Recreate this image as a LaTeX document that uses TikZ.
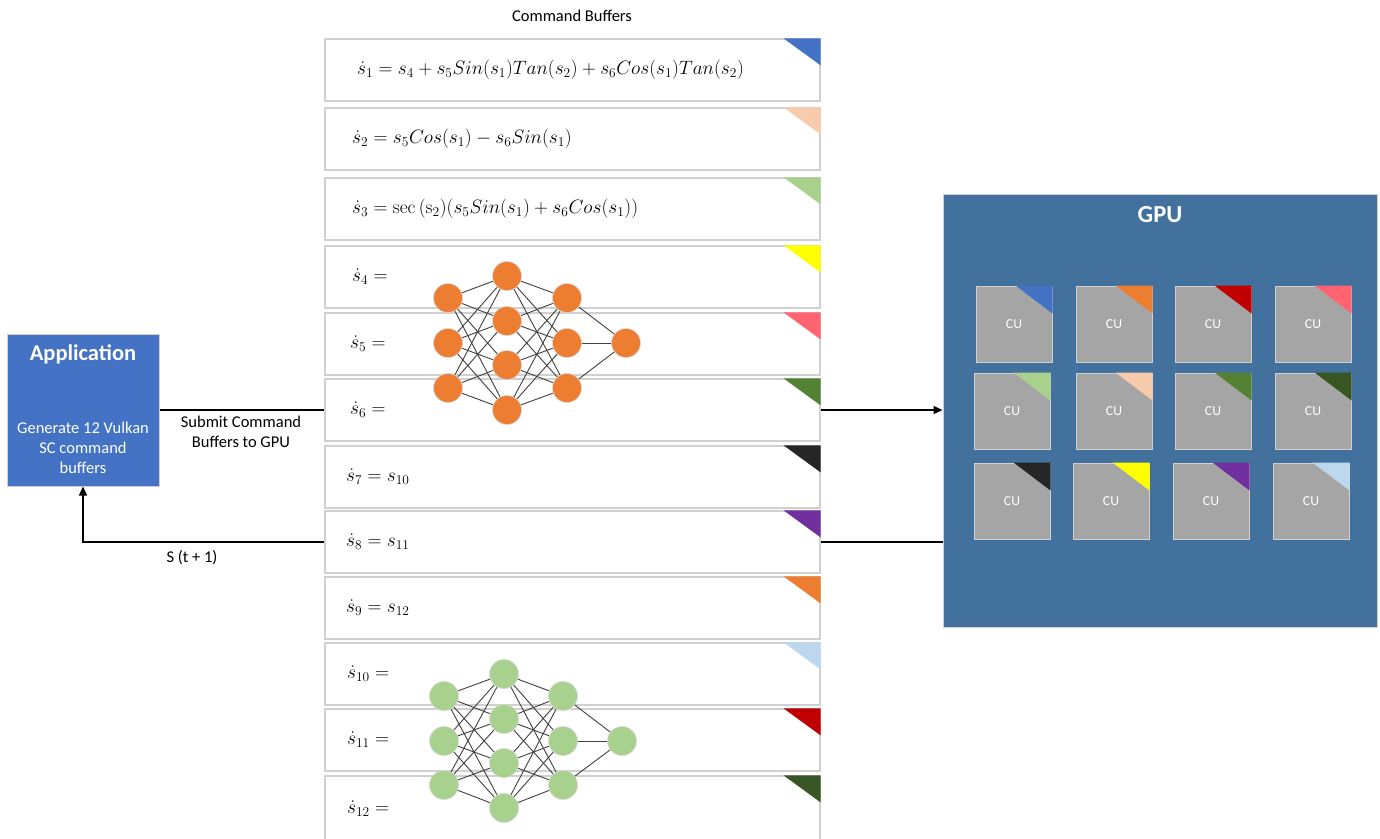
\documentclass[tikz,border=0pt]{standalone}
\usepackage[no-math]{fontspec}
\setmainfont{Carlito}
\usetikzlibrary{arrows.meta}
\pgfdeclarelayer{back}
\pgfdeclarelayer{mid}
\pgfsetlayers{back,mid,main}

% equations of the command buffers, set a little larger than the math font allows
\newcommand{\bufeq}[1]{\scalebox{1.12}{$#1$}}

\definecolor{cBlue}{HTML}{4472C4}
\definecolor{cPeach}{HTML}{F8CBAD}
\definecolor{cLGreen}{HTML}{A9D18E}
\definecolor{cYellow}{HTML}{FFFF00}
\definecolor{cSalmon}{HTML}{FF6470}
\definecolor{cGreen}{HTML}{548235}
\definecolor{cBlack}{HTML}{262626}
\definecolor{cPurple}{HTML}{7030A0}
\definecolor{cOrange}{HTML}{ED7D31}
\definecolor{cLBlue}{HTML}{BDD7EE}
\definecolor{cDRed}{HTML}{C00000}
\definecolor{cDGreen}{HTML}{375623}
\definecolor{gpuBlue}{HTML}{41719C}
\definecolor{cuGray}{HTML}{A5A5A5}
\definecolor{edgeGray}{HTML}{D0D0D0}
\definecolor{netLine}{HTML}{404040}

\begin{document}
\begin{tikzpicture}[x=1pt,y=-1pt,
  buf/.style={draw=edgeGray,line width=1.2pt,fill=white,minimum width=495pt,minimum height=62pt,inner sep=0pt},
  eq/.style={anchor=west,inner sep=0pt,font=\fontsize{17.28}{20}\selectfont},
  conn/.style={draw=black,line width=1.2pt},
  tip/.style={-{Triangle[length=9pt,width=8pt]}},
  onode/.style={circle,fill=cOrange,draw=white!85!black,line width=0.6pt,minimum size=29pt,inner sep=0pt},
  gnode/.style={circle,fill=cLGreen,draw=white!85!black,line width=0.6pt,minimum size=29pt,inner sep=0pt},
  nnedge/.style={draw=netLine,line width=0.9pt},
  cu/.style={draw=edgeGray,line width=1pt,fill=cuGray,minimum size=76pt,inner sep=0pt,text=white,font=\fontsize{13.7}{16}\selectfont},
  lbl/.style={font=\fontsize{16.5}{20}\selectfont,align=center,inner sep=0pt}]
\useasboundingbox (0,0) rectangle (1380,838);

% command buffer rows with their colour tags
\begin{pgfonlayer}{back}
\foreach \i/\t/\c/\h in {1/39/cBlue/62, 2/108/cPeach/62, 3/178/cLGreen/62, 4/246/cYellow/62,
    5/313/cSalmon/62, 6/379/cGreen/62, 7/446/cBlack/62, 8/511/cPurple/62, 9/577/cOrange/62,
    10/643/cLBlue/62, 11/709/cDRed/62, 12/776/cDGreen/66}{
  \node[buf,minimum height=\h pt] (r\i) at (572.5,\t+\h/2) {};
  \fill[\c] (r\i.north east) -- ++(-37,0) -- ++(37,27) -- cycle;
}
\end{pgfonlayer}

\node[lbl] (title) at (572,16) {Command Buffers};

% equations
\node[eq] (e1) at (357,0 |- r1) {\bufeq{\dot{s}_1 = s_4 + s_5 Sin(s_1)Tan(s_2) + s_6 Cos(s_1)Tan(s_2)}};
\node[eq] (e2) at (352,0 |- r2) {\bufeq{\dot{s}_2 = s_5 Cos(s_1) - s_6 Sin(s_1)}};
\node[eq] (e3) at (352,0 |- r3) {\bufeq{\dot{s}_3 = \sec\,(\mathrm{s}_2)(s_5 Sin(s_1) + s_6 Cos(s_1))}};
\node[eq] (e4) at (352,0 |- r4) {\bufeq{\dot{s}_4 =}};
\node[eq] (e5) at (350,0 |- r5) {\bufeq{\dot{s}_5 =}};
\node[eq] (e6) at (350,0 |- r6) {\bufeq{\dot{s}_6 =}};
\node[eq] (e7) at (346,0 |- r7) {\bufeq{\dot{s}_7 = s_{10}}};
\node[eq] (e8) at (346,0 |- r8) {\bufeq{\dot{s}_8 = s_{11}}};
\node[eq] (e9) at (346,0 |- r9) {\bufeq{\dot{s}_9 = s_{12}}};
\node[eq] (e10) at (347,0 |- r10) {\bufeq{\dot{s}_{10} =}};
\node[eq] (e11) at (347,0 |- r11) {\bufeq{\dot{s}_{11} =}};
\node[eq] (e12) at (347,0 |- r12) {\bufeq{\dot{s}_{12} =}};

% orange network
\foreach \n/\x/\y in {a1/448/298, a2/448/343, a3/448/388,
    b1/507/276, b2/507/321, b3/507/365, b4/507/410,
    c1/567/298, c2/567/343, c3/567/388, d1/626/343}
  \node[onode] (o\n) at (\x,\y) {};
% green network
\foreach \n/\x/\y in {a1/444/696, a2/444/741, a3/444/785,
    b1/504/674, b2/504/719, b3/504/763, b4/504/808,
    c1/563/696, c2/563/741, c3/563/785, d1/622/741}
  \node[gnode] (g\n) at (\x,\y) {};

\begin{pgfonlayer}{mid}
\foreach \p in {o,g}{
  \foreach \a in {1,2,3}{
    \foreach \b in {1,2,3,4}{
      \draw[nnedge] (\p a\a.center) -- (\p b\b.center);
      \draw[nnedge] (\p b\b.center) -- (\p c\a.center);
    }
    \draw[nnedge] (\p c\a.center) -- (\p d1.center);
  }
}
\end{pgfonlayer}

% application
\node[draw=edgeGray,line width=1pt,fill=cBlue,minimum width=152pt,minimum height=152pt,inner sep=0pt] (app) at (83,410) {};
\node[lbl,text=white,font=\bfseries\fontsize{22.5}{26}\selectfont] (apptitle) at (83,354) {Application};
\node[lbl,text=white] (appbody) at (83,448) {Generate 12 Vulkan\\SC command\\buffers};

% GPU
\node[draw=edgeGray,line width=1pt,fill=gpuBlue,minimum width=434pt,minimum height=433pt,inner sep=0pt] (gpu) at (1160,410.5) {};
\node[lbl,text=white,font=\bfseries\fontsize{24.5}{28}\selectfont] (gputitle) at (1160,215) {GPU};

\foreach \n/\x/\y/\c in {1/976/286/cBlue, 2/1076/286/cOrange, 3/1175/286/cDRed, 4/1275/286/cSalmon,
    5/974/373/cLGreen, 6/1076/373/cPeach, 7/1175/373/cGreen, 8/1275/373/cDGreen,
    9/974/463/cBlack, 10/1073/463/cYellow, 11/1173/463/cPurple, 12/1273/463/cLBlue}{
  \node[cu] (cu\n) at (\x+38,\y+38) {CU};
  \fill[\c] (cu\n.north east) -- ++(-37,0) -- ++(37,28) -- cycle;
}

% connectors
\draw[conn] (app.east) -- (app.east -| r6.west);
\draw[conn,tip] (r6.east) -- (r6.east -| gpu.west);
\draw[conn] (gpu.west |- r8.east) -- (r8.east);
\draw[conn,tip] (r8.west) -| (app.south);

\node[lbl] (submit) at (241,432) {Submit Command\\Buffers to GPU};
\node[lbl] (feedback) at (192,558) {S (t + 1)};
\end{tikzpicture}
\end{document}
